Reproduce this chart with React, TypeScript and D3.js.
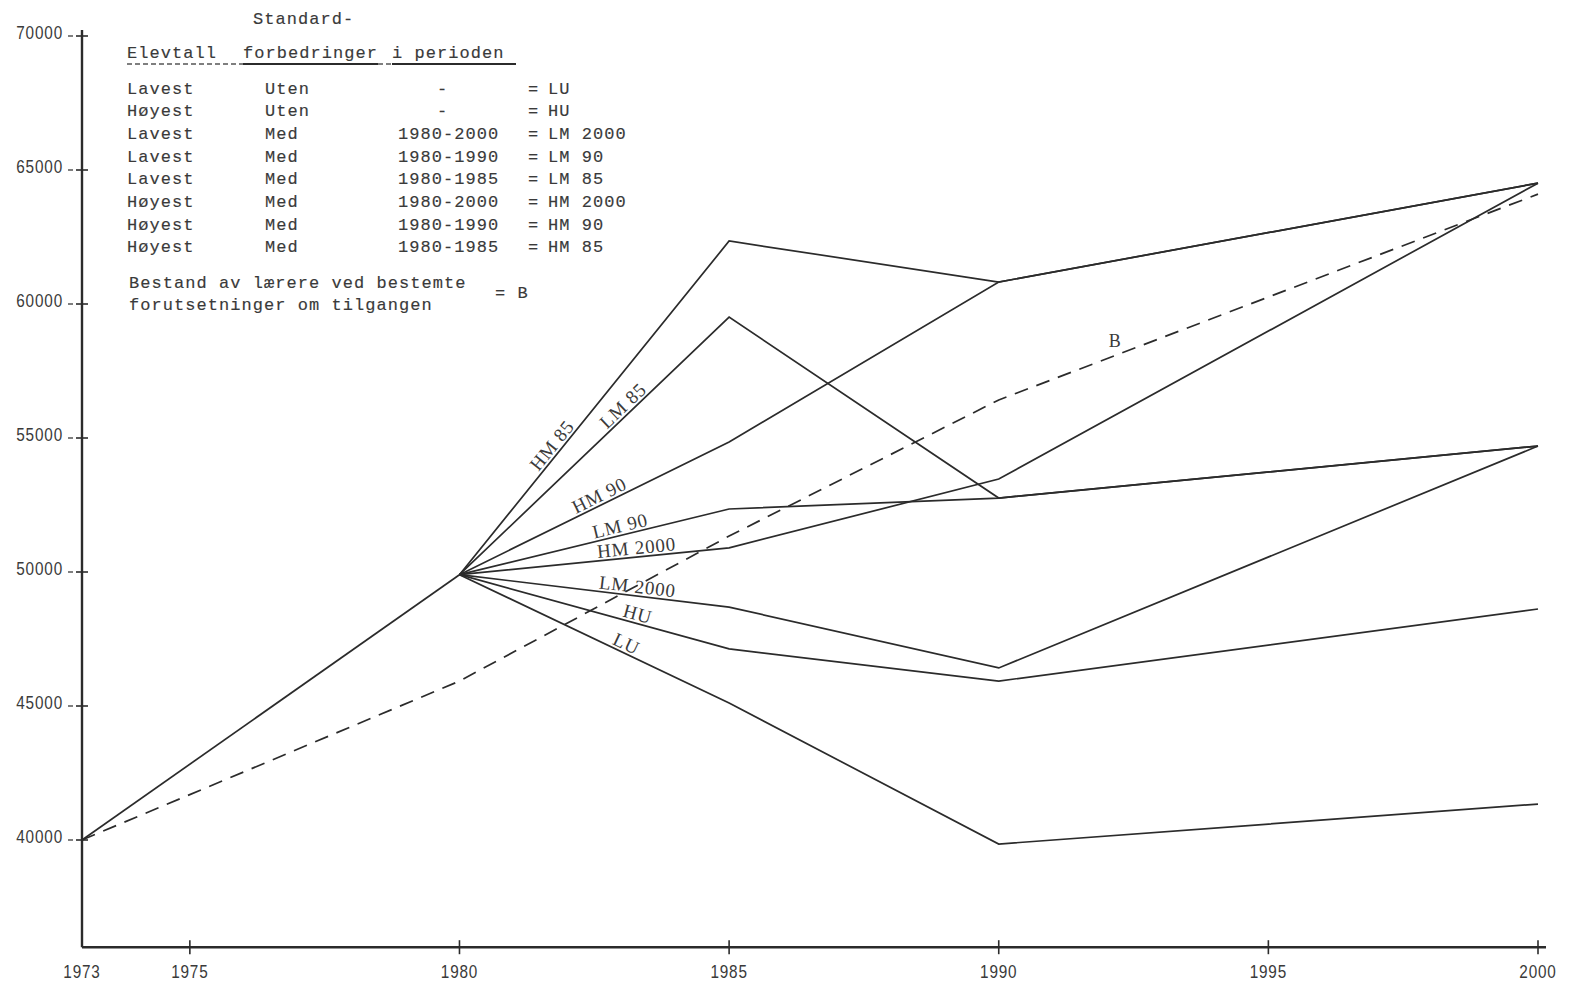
import React from "react";
import * as d3 from "d3";

// ---- data ----
const xTickYears = [1973, 1975, 1980, 1985, 1990, 1995, 2000];
const yTickValues = [40000, 45000, 50000, 55000, 60000, 65000, 70000];

const commonYears = [1973, 1980];
const commonValues = [40000, 49900];

const branchYears = [1980, 1985, 1990, 2000];
const seriesNames = ["HM 85", "LM 85", "HM 90", "LM 90", "HM 2000", "LM 2000", "HU", "LU"];
const hm85 = [49900, 62350, 60820, 64510];
const lm85 = [49900, 59510, 52760, 54700];
const hm90 = [49900, 54850, 60820, 64510];
const lm90 = [49900, 52350, 52760, 54700];
const hm2000 = [49900, 50900, 53470, 64510];
const lm2000 = [49900, 48690, 46420, 54700];
const hu = [49900, 47130, 45930, 48620];
const lu = [49900, 45110, 39850, 41340];
const seriesValues = [hm85, lm85, hm90, lm90, hm2000, lm2000, hu, lu];
const labelYears = [1981.85, 1983.15, 1982.67, 1983.02, 1983.3, 1983.28, 1983.26, 1983.02];

const bYears = [1973, 1980, 1985, 1990, 2000];
const bValues = [40000, 45930, 51340, 56420, 64100];
const bLabelYear = 1992.15;
const bLabelValue = 58400;

const legendRows = [
  ["Lavest", "Uten", "-", "LU"],
  ["Høyest", "Uten", "-", "HU"],
  ["Lavest", "Med", "1980-2000", "LM 2000"],
  ["Lavest", "Med", "1980-1990", "LM 90"],
  ["Lavest", "Med", "1980-1985", "LM 85"],
  ["Høyest", "Med", "1980-2000", "HM 2000"],
  ["Høyest", "Med", "1980-1990", "HM 90"],
  ["Høyest", "Med", "1980-1985", "HM 85"],
];

const W = 1571;
const H = 985;
const x = d3.scaleLinear().domain([1973, 2000]).range([82, 1538]);
const y = d3.scaleLinear().domain([40000, 70000]).range([840, 36]);
const yBottom = 36000;

const INK = "#2b2b2b";
const TXT = "#3a3a3a";
const mono = "'Liberation Mono', 'DejaVu Sans Mono', monospace";
const serif = "'Liberation Serif', 'DejaVu Serif', serif";
const sans = "'Liberation Sans', 'DejaVu Sans', sans-serif";

export default function App() {
  const line = d3
    .line<[number, number]>()
    .x((d) => x(d[0]))
    .y((d) => y(d[1]));

  const commonPath = line(commonYears.map((yr, i) => [yr, commonValues[i]]) as [number, number][]);
  const bPath = line(bYears.map((yr, i) => [yr, bValues[i]]) as [number, number][]);

  const labels = seriesNames.map((name, i) => {
    const vals = seriesValues[i];
    const x0 = x(branchYears[0]);
    const y0 = y(vals[0]);
    const x1 = x(branchYears[1]);
    const y1 = y(vals[1]);
    const lx = x(labelYears[i]);
    const t = (lx - x0) / (x1 - x0);
    const ly = y0 + t * (y1 - y0);
    const ang = (Math.atan2(y1 - y0, x1 - x0) * 180) / Math.PI;
    const len = Math.hypot(x1 - x0, y1 - y0);
    const nx = (y1 - y0) / len;
    const ny = -(x1 - x0) / len;
    const off = 3;
    return { name, px: lx + nx * off, py: ly + ny * off, ang };
  });

  const axisY0 = 30;
  const axisBottom = y(yBottom);
  const rowY0 = 93.5;
  const rowDy = 22.7;

  return (
    <svg
      width={W}
      height={H}
      style={{ position: "absolute", left: 0, top: 0, background: "#fff" }}
    >
      <rect x={0} y={0} width={W} height={H} fill="#fff" />
      {/* axes */}
      <line x1={x(1973)} y1={axisY0} x2={x(1973)} y2={axisBottom} stroke={INK} strokeWidth={2.4} />
      <line x1={x(1973)} y1={axisBottom} x2={x(2000) + 8} y2={axisBottom} stroke={INK} strokeWidth={2.4} />
      {yTickValues.map((v) => (
        <g key={v}>
          <line x1={x(1973) - 14} x2={x(1973) - 9} y1={y(v)} y2={y(v)} stroke={INK} strokeWidth={1.2} />
          <line x1={x(1973) - 6} x2={x(1973) + 6} y1={y(v)} y2={y(v)} stroke={INK} strokeWidth={1.6} />
          <text
            transform={`translate(${x(1973) - 19},${y(v) - 3}) scale(0.85,1)`}
            dy="0.35em"
            textAnchor="end"
            fontFamily={sans}
            fontSize={18}
            letterSpacing={1}
            fill={TXT}
          >
            {v}
          </text>
        </g>
      ))}
      {xTickYears.map((yr) => (
        <g key={yr}>
          {yr !== 1973 && (
            <line x1={x(yr)} x2={x(yr)} y1={axisBottom - 7} y2={axisBottom + 7} stroke={INK} strokeWidth={1.6} />
          )}
          <text
            transform={`translate(${x(yr)},${axisBottom + 31}) scale(0.85,1)`}
            textAnchor="middle"
            fontFamily={sans}
            fontSize={18}
            letterSpacing={1}
            fill={TXT}
          >
            {yr}
          </text>
        </g>
      ))}

      {/* lines */}
      <path d={commonPath || ""} fill="none" stroke={INK} strokeWidth={1.7} />
      {seriesValues.map((vals, i) => (
        <path
          key={seriesNames[i]}
          d={line(branchYears.map((yr, j) => [yr, vals[j]]) as [number, number][]) || ""}
          fill="none"
          stroke={INK}
          strokeWidth={1.7}
          strokeLinejoin="miter"
        />
      ))}
      <path d={bPath || ""} fill="none" stroke={INK} strokeWidth={1.7} strokeDasharray="14 9" />

      {/* line labels */}
      {labels.map((l) => (
        <text
          key={l.name}
          x={l.px}
          y={l.py}
          transform={`rotate(${l.ang} ${l.px} ${l.py})`}
          textAnchor="middle"
          fontFamily={serif}
          fontSize={19}
          letterSpacing={0.8}
          fill={TXT}
        >
          {l.name}
        </text>
      ))}
      <text x={x(bLabelYear)} y={y(bLabelValue)} textAnchor="middle" fontFamily={serif} fontSize={18} fill={TXT}>
        B
      </text>

      {/* legend */}
      <g fontFamily={mono} fontSize={17} fill={TXT} stroke={TXT} strokeWidth={0.15} letterSpacing={1.05}>
        <text x={253} y={24}>Standard-</text>
        <text x={127} y={58}>Elevtall</text>
        <text x={243} y={58}>forbedringer</text>
        <text x={392} y={58}>i perioden</text>
        {legendRows.map((r, i) => {
          const ry = rowY0 + i * rowDy;
          return (
            <g key={i}>
              <text x={127} y={ry}>{r[0]}</text>
              <text x={265} y={ry}>{r[1]}</text>
              {r[2] === "-" ? (
                <text x={437} y={ry}>-</text>
              ) : (
                <text x={398} y={ry}>{r[2]}</text>
              )}
              <text x={528} y={ry}>=</text>
              <text x={548} y={ry}>{r[3]}</text>
            </g>
          );
        })}
        <text x={129} y={288}>Bestand av lærere ved bestemte</text>
        <text x={129} y={310}>forutsetninger om tilgangen</text>
        <text x={495} y={298}>= B</text>
      </g>
      <line x1={127} x2={243} y1={64} y2={64} stroke="#555" strokeWidth={1.5} strokeDasharray="5 3" />
      <line x1={243} x2={378} y1={64} y2={64} stroke={INK} strokeWidth={2} />
      <line x1={378} x2={392} y1={64} y2={64} stroke="#555" strokeWidth={1.5} strokeDasharray="5 3" />
      <line x1={392} x2={516} y1={64} y2={64} stroke={INK} strokeWidth={2} />
    </svg>
  );
}
